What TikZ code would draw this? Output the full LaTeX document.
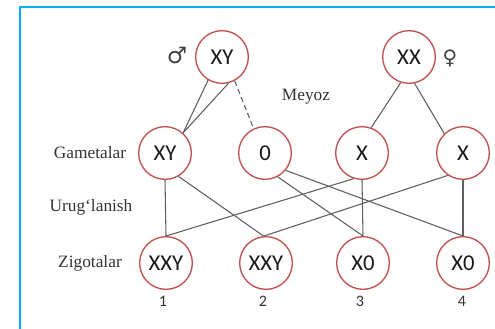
\documentclass[tikz,border=0pt]{standalone}
\usepackage{fontspec}
\setmainfont{Liberation Serif}
\newfontfamily\calfont{Carlito}
\newfontfamily\gsymfont{DejaVu Sans}
\definecolor{cellR}{RGB}{192,80,77}
\definecolor{frameB}{RGB}{0,176,240}
\definecolor{linkG}{RGB}{95,95,95}
\tikzset{cell/.style={circle, draw=cellR, line width=1pt, minimum size=39.5pt, inner sep=0pt,
  font=\calfont\fontsize{17}{19}\selectfont, text=black!90},
  link/.style={draw=linkG, line width=0.8pt},
  rowlab/.style={font=\fontsize{13}{15}\selectfont, text=black!80},
  numlab/.style={font=\calfont\fontsize{12}{14}\selectfont, text=black!80}}

\begin{document}
\begin{tikzpicture}[x=0.75pt, y=-0.75pt]
\useasboundingbox (0,0) rectangle (495,328);
% frame
\draw[frameB, line width=1.8pt] (20,340) -- (20,7) -- (510,7);
% parents
\node[cell] (pM) at (222,57) {XY};
\node[cell] (pF) at (409,57) {XX};
\node[text=black!75, font=\gsymfont\fontsize{17}{19}\selectfont] (sM) at (177,55) {♂};
\node[text=black!75, font=\gsymfont\fontsize{15}{17}\selectfont] (sF) at (450,58) {♀};
\node[rowlab] (meyoz) at (306,97) {Meyoz};
% gametes
\node[cell] (g1) at (165,153) {XY};
\node[cell] (g2) at (265,153) {0};
\node[cell] (g3) at (362,153) {X};
\node[cell] (g4) at (463,153) {X};
% zygotes
\node[cell] (z1) at (166,263) {XXY};
\node[cell] (z2) at (266,263) {XXY};
\node[cell] (z3) at (363,263) {X0};
\node[cell] (z4) at (463,263) {X0};
\node[numlab] (n1) at (163,301) {1};
\node[numlab] (n2) at (263,301) {2};
\node[numlab] (n3) at (360,301) {3};
\node[numlab] (n4) at (462,301) {4};
% row labels
\node[rowlab] (lGam) at (90,153) {Gametalar};
\node[rowlab] (lUrug) at (91,207) {Urugʻlanish};
\node[rowlab] (lZig) at (90,263) {Zigotalar};
% meiosis
\draw[link] (pM.239) -- (g1.48);
\draw[link] (pM.284) -- (g1.48);
\draw[link, dash pattern=on 4pt off 2.5pt] (pM.298) -- (g2.115);
\draw[link] (pF.252) -- (g3.70);
\draw[link] (pF.282) -- (g4.134);
% fertilization
\draw[link] (g1.south) -- (z1.north);
\draw[link] (g1.300) -- (z2.95);
\draw[link] (g2.298) -- (z3.north);
\draw[link] (g2.320) -- (z4.north);
\draw[link] (g3.252) -- (z1.north);
\draw[link] (g3.south) -- (z3.north);
\draw[link] (g4.236) -- (z2.95);
\draw[link] (g4.south) -- (z4.north);
\end{tikzpicture}
\end{document}
